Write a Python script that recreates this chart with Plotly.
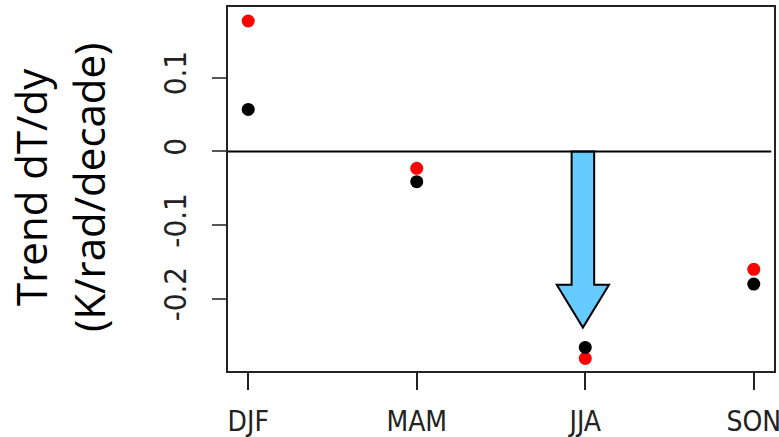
import plotly.graph_objects as go

# Seasonal trends of the meridional temperature gradient
seasons = ["DJF", "MAM", "JJA", "SON"]
trend_red = [0.177, -0.023, -0.281, -0.160]
trend_black = [0.057, -0.041, -0.266, -0.180]

y_tick_vals = [-0.2, -0.1, 0.0, 0.1]
y_tick_text = ["-0.2", "-0.1", "0", "0.1"]

# Highlight arrow for the summer decrease (data units)
arrow_season = 2.986
arrow_top = 0.0
arrow_head_base = -0.181
arrow_tip = -0.239
arrow_shaft_half = 0.067
arrow_head_half = 0.155

x_pos = list(range(1, len(seasons) + 1))

narrow = "Liberation Sans Narrow, DejaVu Sans Condensed, Arial"
x_tick_font = dict(family=narrow, size=28, color="#222222")
y_tick_font = dict(family=narrow, size=31, color="#222222")
title_font = dict(family="Open Sans", size=42, color="#000000")

fig = go.Figure()

fig.add_trace(go.Scatter(
    x=x_pos, y=trend_red, mode="markers",
    marker=dict(color="#FF0000", size=13, line=dict(width=0)),
    showlegend=False, hoverinfo="skip", cliponaxis=False,
))
fig.add_trace(go.Scatter(
    x=x_pos, y=trend_black, mode="markers",
    marker=dict(color="#000000", size=13, line=dict(width=0)),
    showlegend=False, hoverinfo="skip", cliponaxis=False,
))

cx = arrow_season
path = (
    f"M {cx - arrow_shaft_half},{arrow_top} "
    f"L {cx + arrow_shaft_half},{arrow_top} "
    f"L {cx + arrow_shaft_half},{arrow_head_base} "
    f"L {cx + arrow_head_half},{arrow_head_base} "
    f"L {cx},{arrow_tip} "
    f"L {cx - arrow_head_half},{arrow_head_base} "
    f"L {cx - arrow_shaft_half},{arrow_head_base} Z"
)
fig.add_shape(type="path", path=path, xref="x", yref="y",
              fillcolor="#66CCFF", line=dict(color="#000000", width=2), layer="above")

# Horizontal reference line at zero
fig.add_shape(type="line", xref="paper", yref="y", x0=0, x1=0.995, y0=0, y1=0,
              line=dict(color="#000000", width=2), layer="above")

fig.update_layout(
    width=779, height=437,
    margin=dict(l=228, r=5, t=7, b=66, autoexpand=False),
    paper_bgcolor="white", plot_bgcolor="white",
    xaxis=dict(
        range=[0.88, 4.12], tickvals=x_pos, ticktext=seasons,
        showgrid=False, zeroline=False, automargin=False,
        showline=True, mirror=True, linecolor="#222222", linewidth=2,
        ticks="outside", ticklen=17, tickwidth=2, tickcolor="#222222",
        tickfont=x_tick_font, ticklabelstandoff=7, ticklabeloverflow="allow",
    ),
    yaxis=dict(
        range=[-0.298, 0.196], tickvals=y_tick_vals, ticktext=y_tick_text,
        showgrid=False, zeroline=False, automargin=False,
        showline=True, mirror=True, linecolor="#222222", linewidth=2,
        ticks="outside", ticklen=14, tickwidth=2, tickcolor="#555555",
        tickfont=y_tick_font, tickangle=-90, ticklabelstandoff=14,
        ticklabeloverflow="allow",
    ),
)

y_mid = 1 - (187 - 7) / 364
fig.add_annotation(text="Trend dT/dy", textangle=-90, xref="paper", yref="paper",
                   x=0, y=y_mid, xanchor="center", yanchor="middle",
                   xshift=30 - 228, showarrow=False, font=title_font)
fig.add_annotation(text="(K/rad/decade)", textangle=-90, xref="paper", yref="paper",
                   x=0, y=y_mid, xanchor="center", yanchor="middle",
                   xshift=88 - 228, showarrow=False, font=title_font)

fig.write_html("out.html")
